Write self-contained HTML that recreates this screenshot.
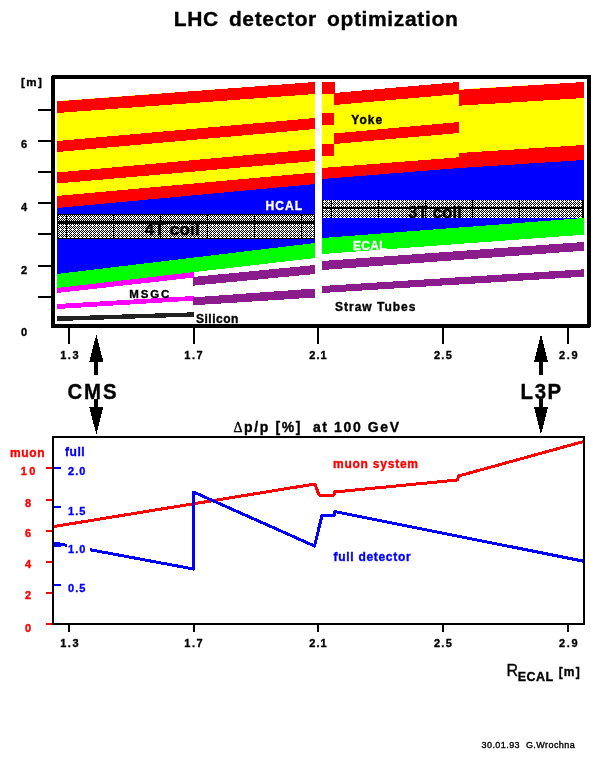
<!DOCTYPE html>
<html><head><meta charset="utf-8"><title>LHC detector optimization</title>
<style>
html,body{margin:0;padding:0;background:#fff;}
svg{display:block;font-family:"Liberation Sans",sans-serif;}
</style></head>
<body>
<svg width="601" height="758" viewBox="0 0 601 758">
<defs>
<pattern id="dith" x="0" y="0" width="4" height="4" patternUnits="userSpaceOnUse" shape-rendering="crispEdges">
<rect width="4" height="4" fill="#fff"/>
<rect x="1" y="0" width="1" height="1" fill="#000"/><rect x="3" y="0" width="1" height="1" fill="#000"/>
<rect x="2" y="1" width="1" height="1" fill="#000"/>
<rect x="1" y="2" width="1" height="1" fill="#000"/><rect x="3" y="2" width="1" height="1" fill="#000"/>
<rect x="0" y="3" width="1" height="1" fill="#000"/><rect x="2" y="3" width="1" height="1" fill="#000"/>
</pattern>
</defs>
<rect width="601" height="758" fill="#fff"/>
<g shape-rendering="crispEdges">
<polygon points="57,101 315,82 315,184 57,208" fill="#ffff00"/>
<polygon points="57,101.4 315,82 315,94 57,113" fill="#ff0000"/>
<polygon points="57,141 315,118 315,129 57,152" fill="#ff0000"/>
<polygon points="57,172.5 315,149 315,161 57,183.5" fill="#ff0000"/>
<polygon points="57,196 315,172.5 315,184 57,208" fill="#ff0000"/>
<polygon points="57,208 315,184 315,243 57,274" fill="#0000ff"/>
<polygon points="57,287 194,271.5 194,277.5 57,293" fill="#ff00ff"/>
<polygon points="57,274 315,243 315,258 57,288" fill="#00ff00"/>
<polygon points="57,304 194,296 194,300.5 57,309" fill="#ff00ff"/>
<polygon points="57,316.5 194,312.3 194,316.6 57,321" fill="#222222"/>
<polygon points="193,277 315,265 315,274 193,285.7" fill="#8b1c8b"/>
<polygon points="193,297.4 315,288.5 315,297.5 193,305.3" fill="#8b1c8b"/>
<rect x="57" y="214" width="258" height="25" fill="#000"/>
<rect x="58" y="215" width="256" height="23" fill="url(#dith)"/>
<rect x="57" y="221" width="258" height="3" fill="#000"/>
<rect x="66" y="214" width="1" height="25" fill="#000"/>
<rect x="113" y="214" width="1" height="25" fill="#000"/>
<rect x="160" y="214" width="1" height="25" fill="#000"/>
<rect x="207" y="214" width="1" height="25" fill="#000"/>
<rect x="254" y="214" width="1" height="25" fill="#000"/>
<rect x="301" y="214" width="1" height="25" fill="#000"/>
<polygon points="322,82 334,82 334,93 459,82 459,89.3 584,82 584,160 459,168 322,179" fill="#ffff00"/>
<rect x="322" y="82" width="13" height="12" fill="#ff0000"/>
<rect x="322" y="113" width="12" height="12" fill="#ff0000"/>
<rect x="322" y="144" width="12" height="12" fill="#ff0000"/>
<polygon points="334,93 459,82 459,94 334,105" fill="#ff0000"/>
<polygon points="334,133.5 459,122 459,133 334,144" fill="#ff0000"/>
<polygon points="322,168 459,157.3 459,168 322,179" fill="#ff0000"/>
<polygon points="459,89.8 584,82 584,98 459,105.7" fill="#ff0000"/>
<polygon points="459,153 584,145 584,160 459,168" fill="#ff0000"/>
<polygon points="322,179 459,168 584,160 584,218 322,238" fill="#0000ff"/>
<polygon points="322,238 584,218 584,234.7 322,254" fill="#00ff00"/>
<polygon points="322,261 584,242 584,250.7 322,270" fill="#8b1c8b"/>
<polygon points="322,286 584,269.3 584,276.7 322,293" fill="#8b1c8b"/>
<rect x="322" y="200" width="262" height="18" fill="#000"/>
<rect x="323" y="200" width="259" height="18" fill="url(#dith)"/>
<rect x="322" y="207" width="262" height="2" fill="#000"/>
<rect x="331" y="200" width="1" height="18" fill="#000"/>
<rect x="378" y="200" width="1" height="18" fill="#000"/>
<rect x="425" y="200" width="1" height="18" fill="#000"/>
<rect x="472" y="200" width="1" height="18" fill="#000"/>
<rect x="519" y="200" width="1" height="18" fill="#000"/>
<rect x="53" y="77" width="536" height="249" fill="none" stroke="#000" stroke-width="4" stroke-linejoin="round"/>
<rect x="38" y="109" width="13" height="2" fill="#000"/>
<rect x="38" y="140" width="13" height="2" fill="#000"/>
<rect x="38" y="171" width="13" height="2" fill="#000"/>
<rect x="38" y="202" width="13" height="2" fill="#000"/>
<rect x="38" y="233" width="13" height="2" fill="#000"/>
<rect x="38" y="265" width="13" height="2" fill="#000"/>
<rect x="38" y="296" width="13" height="2" fill="#000"/>
<rect x="68" y="328" width="2" height="16" fill="#000"/>
<rect x="193" y="328" width="2" height="16" fill="#000"/>
<rect x="317" y="328" width="2" height="16" fill="#000"/>
<rect x="442" y="328" width="2" height="16" fill="#000"/>
<rect x="567" y="328" width="2" height="16" fill="#000"/>
</g>
<text x="173.8" y="25.8" font-size="21" font-weight="bold" fill="#000" stroke="#000" stroke-width="0.35" letter-spacing="0.65" word-spacing="3.5">LHC detector optimization</text>
<text x="21" y="85.8" font-size="11.5" font-weight="bold" fill="#000" stroke="#000" stroke-width="0.35" textLength="20.8" lengthAdjust="spacing">[m]</text>
<text x="21" y="148.3" font-size="11" font-weight="bold" fill="#000" stroke="#000" stroke-width="0.35">6</text>
<text x="21" y="210.8" font-size="11" font-weight="bold" fill="#000" stroke="#000" stroke-width="0.35">4</text>
<text x="21" y="273.5" font-size="11" font-weight="bold" fill="#000" stroke="#000" stroke-width="0.35">2</text>
<text x="21" y="335.5" font-size="11" font-weight="bold" fill="#000" stroke="#000" stroke-width="0.35">0</text>
<text x="60.3" y="359" font-size="11" font-weight="bold" fill="#000" stroke="#000" stroke-width="0.35" textLength="18.2" lengthAdjust="spacing">1.3</text>
<text x="184.3" y="359" font-size="11" font-weight="bold" fill="#000" stroke="#000" stroke-width="0.35" textLength="18.3" lengthAdjust="spacing">1.7</text>
<text x="309.3" y="359" font-size="11" font-weight="bold" fill="#000" stroke="#000" stroke-width="0.35" textLength="17.4" lengthAdjust="spacing">2.1</text>
<text x="434" y="359" font-size="11" font-weight="bold" fill="#000" stroke="#000" stroke-width="0.35" textLength="17.8" lengthAdjust="spacing">2.5</text>
<text x="559" y="359" font-size="11" font-weight="bold" fill="#000" stroke="#000" stroke-width="0.35" textLength="18.6" lengthAdjust="spacing">2.9</text>
<text x="351.3" y="124" font-size="12" font-weight="bold" fill="#000" stroke="#000" stroke-width="0.35" textLength="31" lengthAdjust="spacing">Yoke</text>
<text x="265.6" y="210.1" font-size="12" font-weight="bold" fill="#fff" stroke="#fff" stroke-width="0.35" textLength="36.6" lengthAdjust="spacing">HCAL</text>
<text x="144.7" y="234.7" font-size="17" font-weight="bold" fill="#000" stroke="#000" stroke-width="0.4" textLength="55" lengthAdjust="spacing">4T coil</text>
<text x="408" y="218.3" font-size="17" font-weight="bold" fill="#000" stroke="#000" stroke-width="0.4" textLength="54" lengthAdjust="spacing">3T coil</text>
<text x="353" y="250" font-size="12" font-weight="bold" fill="#fff" stroke="#fff" stroke-width="0.35" textLength="33.5" lengthAdjust="spacing">ECAL</text>
<text x="129.3" y="297.7" font-size="11.5" font-weight="bold" fill="#000" stroke="#000" stroke-width="0.35" textLength="40" lengthAdjust="spacing">MSGC</text>
<text x="196" y="322.7" font-size="12" font-weight="bold" fill="#000" stroke="#000" stroke-width="0.35" textLength="42.3" lengthAdjust="spacing">Silicon</text>
<text x="335" y="311" font-size="12" font-weight="bold" fill="#000" stroke="#000" stroke-width="0.35" textLength="80.4" lengthAdjust="spacing">Straw Tubes</text>
<g shape-rendering="crispEdges">
<polygon points="96.3,334.5 103.3,361.5 89.3,361.5" fill="#000"/>
<rect x="94.3" y="361" width="4" height="14" fill="#000"/>
<rect x="94.3" y="399" width="4" height="8" fill="#000"/>
<polygon points="89.3,407 103.3,407 96.3,434.5" fill="#000"/>
<polygon points="541,334.5 548,361.5 534,361.5" fill="#000"/>
<rect x="539" y="361" width="4" height="14" fill="#000"/>
<rect x="539" y="399" width="4" height="8" fill="#000"/>
<polygon points="534,407 548,407 541,434.5" fill="#000"/>
</g>
<text x="0" y="0" font-size="21.5" font-weight="bold" fill="#000" stroke="#000" stroke-width="0.35" textLength="51.7895" lengthAdjust="spacing" transform="translate(67.4,399.2) scale(0.95,1)">CMS</text>
<text x="0" y="0" font-size="21.5" font-weight="bold" fill="#000" stroke="#000" stroke-width="0.35" textLength="42.7368" lengthAdjust="spacing" transform="translate(520.6,399.4) scale(0.95,1)">L3P</text>
<text x="233.5" y="431.9" font-size="14" font-weight="bold" fill="#000" stroke="#000" stroke-width="0.35" textLength="165.5" lengthAdjust="spacing" xml:space="preserve"><tspan font-family="Liberation Serif, DejaVu Serif, serif" font-weight="normal">Δ</tspan>p/p [%]  at 100 GeV</text>
<g shape-rendering="crispEdges">
<polyline fill="none" stroke="#ff0000" stroke-width="3" stroke-linejoin="round" points="54,526.5 315,484 319,495 334,495 334.5,492 457.5,480 458.5,476 584,441.4"/>
<polyline fill="none" stroke="#0000ff" stroke-width="3" stroke-linejoin="round" points="54,543 193.5,569 193.5,492 314.5,546 322,515.6 334,515.6 335,511.6 584,561.3"/>
<rect x="67" y="540" width="23" height="16" fill="#fff"/>
<rect x="53" y="437" width="531" height="187" fill="none" stroke="#000" stroke-width="2"/>
<rect x="46" y="467" width="6" height="2" fill="#ff0000"/>
<rect x="46" y="499" width="6" height="2" fill="#ff0000"/>
<rect x="46" y="530" width="6" height="2" fill="#ff0000"/>
<rect x="46" y="561" width="6" height="2" fill="#ff0000"/>
<rect x="46" y="592" width="6" height="2" fill="#ff0000"/>
<rect x="46" y="623" width="6" height="2" fill="#ff0000"/>
<rect x="54" y="467" width="7" height="2" fill="#0000ff"/>
<rect x="54" y="506" width="7" height="2" fill="#0000ff"/>
<rect x="54" y="545" width="7" height="2" fill="#0000ff"/>
<rect x="54" y="584" width="7" height="2" fill="#0000ff"/>
<rect x="68" y="625" width="2" height="7" fill="#000"/>
<rect x="193" y="625" width="2" height="7" fill="#000"/>
<rect x="317" y="625" width="2" height="7" fill="#000"/>
<rect x="442" y="625" width="2" height="7" fill="#000"/>
<rect x="567" y="625" width="2" height="7" fill="#000"/>
</g>
<text x="10" y="456.7" font-size="12" font-weight="bold" fill="#ff0000" stroke="#ff0000" stroke-width="0.35" textLength="34.7" lengthAdjust="spacing">muon</text>
<text x="65" y="456.3" font-size="12" font-weight="bold" fill="#0000ff" stroke="#0000ff" stroke-width="0.35" textLength="19.7" lengthAdjust="spacing">full</text>
<text x="20.8" y="475.2" font-size="11" font-weight="bold" fill="#ff0000" stroke="#ff0000" stroke-width="0.35" textLength="14.5" lengthAdjust="spacing">10</text>
<text x="25" y="506.6" font-size="11" font-weight="bold" fill="#ff0000" stroke="#ff0000" stroke-width="0.35">8</text>
<text x="25" y="537.1" font-size="11" font-weight="bold" fill="#ff0000" stroke="#ff0000" stroke-width="0.35">6</text>
<text x="25" y="568.4" font-size="11" font-weight="bold" fill="#ff0000" stroke="#ff0000" stroke-width="0.35">4</text>
<text x="25" y="599.2" font-size="11" font-weight="bold" fill="#ff0000" stroke="#ff0000" stroke-width="0.35">2</text>
<text x="25" y="631.5" font-size="11" font-weight="bold" fill="#ff0000" stroke="#ff0000" stroke-width="0.35">0</text>
<text x="68" y="475.2" font-size="11" font-weight="bold" fill="#0000ff" stroke="#0000ff" stroke-width="0.35" textLength="17.4" lengthAdjust="spacing">2.0</text>
<text x="68" y="514.5" font-size="11" font-weight="bold" fill="#0000ff" stroke="#0000ff" stroke-width="0.35" textLength="17.4" lengthAdjust="spacing">1.5</text>
<text x="68" y="553.2" font-size="11" font-weight="bold" fill="#0000ff" stroke="#0000ff" stroke-width="0.35" textLength="17.4" lengthAdjust="spacing">1.0</text>
<text x="68" y="592.2" font-size="11" font-weight="bold" fill="#0000ff" stroke="#0000ff" stroke-width="0.35" textLength="17.4" lengthAdjust="spacing">0.5</text>
<text x="333" y="468.2" font-size="12" font-weight="bold" fill="#ff0000" stroke="#ff0000" stroke-width="0.35" textLength="85" lengthAdjust="spacing">muon system</text>
<text x="333.6" y="560.6" font-size="12" font-weight="bold" fill="#0000ff" stroke="#0000ff" stroke-width="0.35" textLength="77" lengthAdjust="spacing">full detector</text>
<text x="60.3" y="646.8" font-size="11" font-weight="bold" fill="#000" stroke="#000" stroke-width="0.35" textLength="18.2" lengthAdjust="spacing">1.3</text>
<text x="184.3" y="646.8" font-size="11" font-weight="bold" fill="#000" stroke="#000" stroke-width="0.35" textLength="18.3" lengthAdjust="spacing">1.7</text>
<text x="309.3" y="646.8" font-size="11" font-weight="bold" fill="#000" stroke="#000" stroke-width="0.35" textLength="17.4" lengthAdjust="spacing">2.1</text>
<text x="434" y="646.8" font-size="11" font-weight="bold" fill="#000" stroke="#000" stroke-width="0.35" textLength="17.8" lengthAdjust="spacing">2.5</text>
<text x="559" y="646.8" font-size="11" font-weight="bold" fill="#000" stroke="#000" stroke-width="0.35" textLength="18.6" lengthAdjust="spacing">2.9</text>
<text x="506.4" y="676" font-size="16" font-weight="normal" fill="#000" stroke="#000" stroke-width="0.35">R</text>
<text x="517.7" y="681.2" font-size="12.5" font-weight="bold" fill="#000" stroke="#000" stroke-width="0.35" textLength="35.5" lengthAdjust="spacing">ECAL</text>
<text x="558.7" y="676" font-size="12" font-weight="bold" fill="#000" stroke="#000" stroke-width="0.35" textLength="21" lengthAdjust="spacing">[m]</text>
<text x="481.5" y="748.1" font-size="9" font-weight="normal" fill="#000" stroke="#000" stroke-width="0.35" textLength="93.2" lengthAdjust="spacing" xml:space="preserve">30.01.93  G.Wrochna</text>
</svg>
</body></html>
